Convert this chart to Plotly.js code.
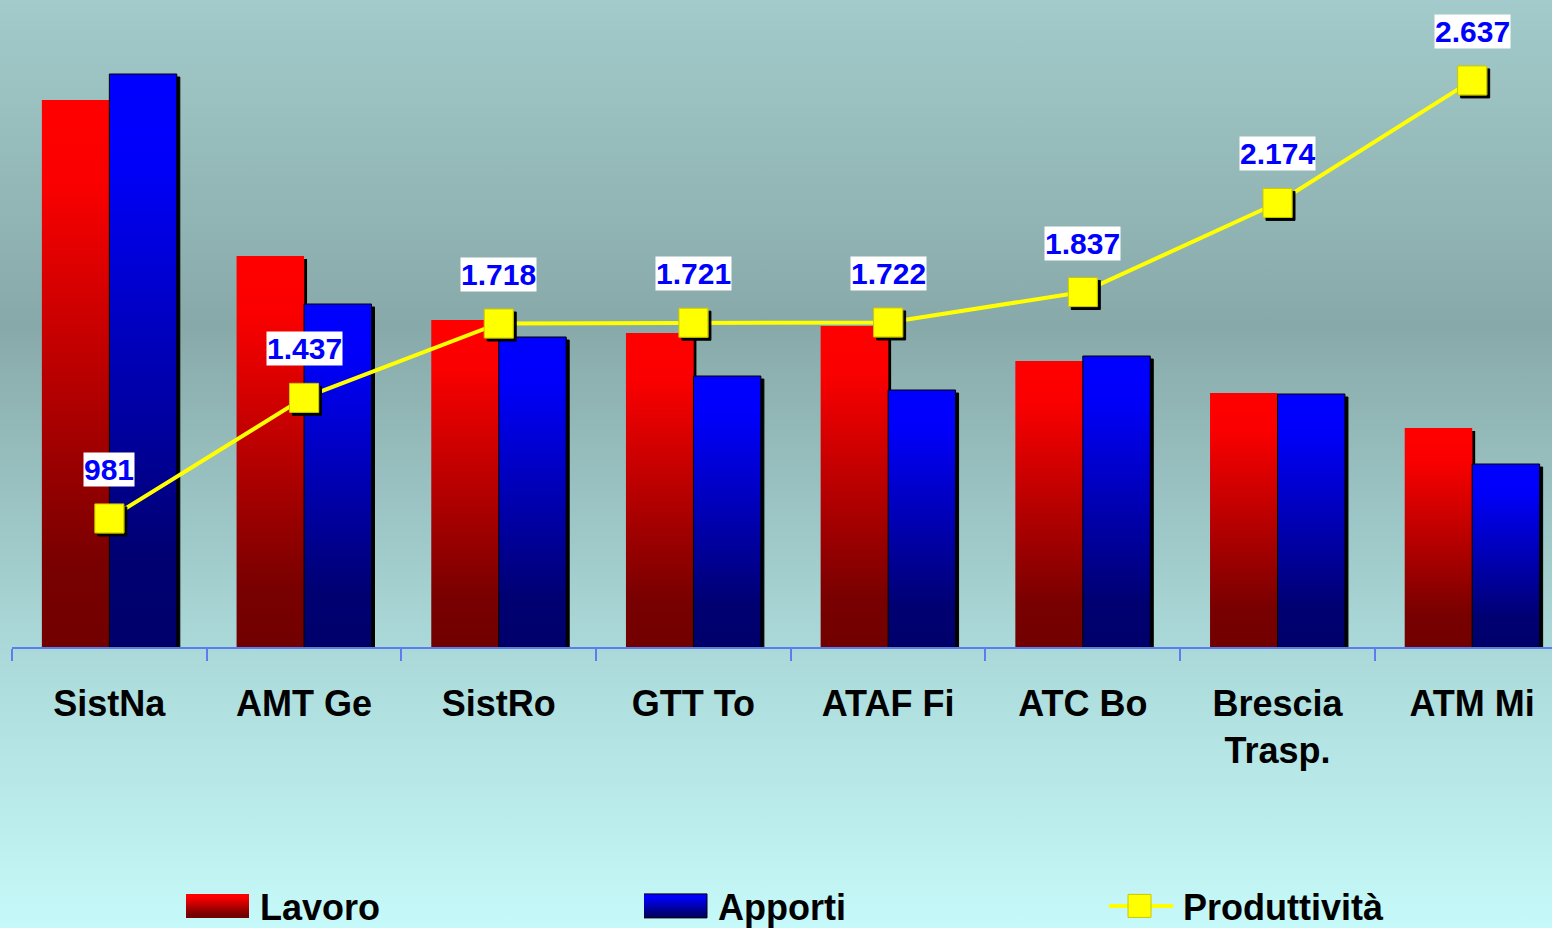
<!DOCTYPE html>
<html><head><meta charset="utf-8">
<script src="https://cdn.plot.ly/plotly-3.0.1.min.js"></script>
<style>
html,body{margin:0;padding:0;overflow:hidden;}
body{width:1552px;height:928px;background:linear-gradient(to bottom,#a3cbcb 0%,#88a9a9 35%,#abd9d9 70%,#c6f9f9 100%);}
#chart{width:1552px;height:928px;}
</style></head><body><div id="chart"></div>
<script>
const categories = ['SistNa','AMT Ge','SistRo','GTT To','ATAF Fi','ATC Bo','Brescia<br>Trasp.','ATM Mi'];
const lavoro = [54.7, 39.1, 32.7, 31.4, 32.1, 28.6, 25.4, 21.9];
const apporti = [57.3, 34.3, 31.0, 27.1, 25.7, 29.1, 25.3, 18.3];
const produttivita = [981, 1437, 1718, 1721, 1722, 1837, 2174, 2637];
const seriesNames = ['Lavoro', 'Apporti', 'Produttività'];

const FONT = 'Liberation Sans, Arial, sans-serif';
function fmt(v){ return String(v).replace(/\B(?=(\d{3})+(?!\d))/g, '.'); }

const traces = [
  {type:'bar', name:seriesNames[0], x:categories, y:lavoro, legend:'legend', marker:{color:'#ff0000', line:{width:0}}},
  {type:'bar', name:seriesNames[1], x:categories, y:apporti, legend:'legend2', marker:{color:'#0000ff', line:{width:1, color:'#000000'}}},
  {type:'scatter', mode:'lines+markers', name:seriesNames[2], x:categories, y:produttivita, yaxis:'y2', legend:'legend3',
   line:{color:'#ffff00', width:4}, marker:{symbol:'square', size:29, color:'#ffff00', line:{color:'#c8c800', width:1}}, cliponaxis:false}
];

const annotations = produttivita.map((v,i)=>({
  x:categories[i], y:v, xref:'x', yref:'y2', text:fmt(v), showarrow:false, yshift:49,
  bgcolor:'#ffffff', borderpad:0, font:{family:FONT, size:30, weight:700, color:'#0000ff'}
}));

function legendAt(textX){
  return {orientation:'h', x:(textX-74-12)/1540, xanchor:'left', y:-(906-647)/647, yanchor:'middle',
          itemwidth:64, bgcolor:'rgba(0,0,0,0)', font:{family:FONT, size:36, weight:700, color:'#000'}};
}

const layout = {
  width:1552, height:928,
  margin:{l:12, r:0, t:0, b:281, autoexpand:false},
  paper_bgcolor:'rgba(0,0,0,0)', plot_bgcolor:'rgba(0,0,0,0)',
  barmode:'group', bargap:0.307, bargroupgap:0,
  font:{family:FONT, size:36, weight:700, color:'#000'},
  xaxis:{type:'category', range:[-0.5, 7.41], showline:true, linecolor:'#5a7ef0', linewidth:2,
         ticks:'outside', tickson:'boundaries', ticklen:12, tickwidth:2, tickcolor:'#5a7ef0', ticklabelstandoff:24,
         tickfont:{family:FONT, size:36, weight:700, color:'#000'}, showgrid:false, zeroline:false, fixedrange:true},
  yaxis:{range:[0, 64.7], visible:false, fixedrange:true},
  yaxis2:{range:[495, 2941], overlaying:'y', visible:false, fixedrange:true},
  showlegend:true,
  legend:legendAt(260), legend2:legendAt(718), legend3:legendAt(1183),
  annotations:annotations
};

const ns = 'http://www.w3.org/2000/svg';
const fills = ['url(#gRed)','url(#gBlue)'];

function ensureDefs(gd){
  if(document.getElementById('gRed')) return;
  const svg = gd.querySelector('.main-svg');
  if(!svg) return;
  let defs = svg.querySelector('defs');
  if(!defs){ defs = document.createElementNS(ns,'defs'); svg.insertBefore(defs, svg.firstChild); }
  function grad(id, stops){
    const g = document.createElementNS(ns,'linearGradient');
    g.setAttribute('id', id); g.setAttribute('x1','0'); g.setAttribute('y1','0'); g.setAttribute('x2','0'); g.setAttribute('y2','1');
    stops.forEach(s=>{ const st=document.createElementNS(ns,'stop'); st.setAttribute('offset', s[0]); st.setAttribute('stop-color', s[1]); g.appendChild(st); });
    defs.appendChild(g);
  }
  grad('gRed', [[0,'#ff0000'],[0.15,'#fa0000'],[0.85,'#780000'],[1,'#720000']]);
  grad('gBlue', [[0,'#0000ff'],[0.15,'#0000fa'],[0.85,'#000070'],[1,'#00006c']]);
  const f = document.createElementNS(ns,'filter');
  f.setAttribute('id','shd'); f.setAttribute('x','-20%'); f.setAttribute('y','-20%'); f.setAttribute('width','150%'); f.setAttribute('height','150%');
  const ds = document.createElementNS(ns,'feDropShadow');
  ds.setAttribute('dx','3'); ds.setAttribute('dy','3'); ds.setAttribute('stdDeviation','0'); ds.setAttribute('flood-color','#000'); ds.setAttribute('flood-opacity','1');
  f.appendChild(ds); defs.appendChild(f);
}

function decorate(gd){
  ensureDefs(gd);
  gd.querySelectorAll('.barlayer .trace').forEach((t,i)=>{
    t.querySelectorAll('.point path').forEach(p=>{ p.style.fill = fills[i]; p.setAttribute('filter','url(#shd)'); });
  });
  gd.querySelectorAll('.scatterlayer .trace .points path').forEach(p=>p.setAttribute('filter','url(#shd)'));
  gd.querySelectorAll('.infolayer g.traces').forEach(t=>{
    const txt = t.querySelector('text');
    if(!txt) return;
    const i = seriesNames.indexOf(txt.textContent.trim());
    const T = parseFloat(txt.getAttribute('x')) || 74;
    if(i===0 || i===1){
      t.querySelectorAll('.legendpoints path').forEach(p=>{
        p.removeAttribute('transform');
        p.setAttribute('d', 'M'+(T-75)+',-12h64v24h-64Z');
        p.style.fill = fills[i]; p.style.stroke = i===1 ? '#000' : 'none'; p.style.strokeWidth = i===1 ? '1px' : '0';
      });
    } else if(i===2){
      t.querySelectorAll('.legendlines path').forEach(p=>{ p.removeAttribute('transform'); p.setAttribute('d','M'+(T-75)+',0h65'); });
      t.querySelectorAll('.legendpoints path').forEach(p=>{ p.setAttribute('transform','translate('+(T-43.5)+',0)'); p.setAttribute('d','M11.5,11.5H-11.5V-11.5H11.5Z'); });
    }
  });
}

const gdEl = document.getElementById('chart');
let busy = false;
const obs = new MutationObserver(()=>{
  if(busy) return;
  busy = true;
  try { decorate(gdEl); } catch(e) {}
  obs.takeRecords();
  busy = false;
});
obs.observe(gdEl, {childList:true, subtree:true, attributes:true, attributeFilter:['d','transform','style']});

Plotly.newPlot(gdEl, traces, layout, {staticPlot:true, displayModeBar:false}).then(gd=>{
  decorate(gd);
  obs.takeRecords();
});
</script>
</body></html>
